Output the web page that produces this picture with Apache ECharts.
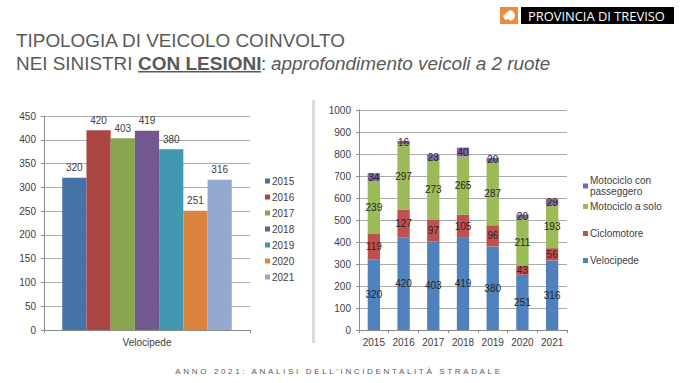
<!DOCTYPE html>
<html><head><meta charset="utf-8">
<style>html,body{margin:0;padding:0;background:#fff}#c{width:680px;height:383px}</style>
<script src="https://cdn.jsdelivr.net/npm/echarts@6/dist/echarts.min.js"></script>
</head><body><div id="c"></div>
<script>
const years = ['2015','2016','2017','2018','2019','2020','2021'];
const velocipede = [320,420,403,419,380,251,316];
const ciclomotore = [119,127,97,105,96,43,56];
const motoSolo = [239,297,273,265,287,211,193];
const motoPass = [34,16,23,40,20,20,29];
const yearColors = ['#4572A7','#AA4643','#89A54E','#71588F','#4198AF','#DB843D','#93A9CF'];
const typeNames = ['Velocipede','Ciclomotore','Motociclo a solo','Motociclo con\npasseggero'];
const typeColors = ['#4F81BD','#C0504D','#9BBB59','#8064A2'];
const typeValues = [velocipede,ciclomotore,motoSolo,motoPass];
const FOOTER = "ANNO 2021: ANALISI DELL'INCIDENTALITÀ STRADALE";
const FF = '"Liberation Sans", Arial, sans-serif';
const txt = '#404040', grid = '#ababab';

const axisLab = {color:txt,fontFamily:FF,fontSize:10};
const mkX = (gi,data)=>({type:'category',gridIndex:gi,data,axisLine:{lineStyle:{color:'#8c8c8c'}},
  axisTick:{show:true,length:3,lineStyle:{color:'#8c8c8c'}},axisLabel:{...axisLab,margin:7}});
const mkY = (gi,max,interval)=>({type:'value',gridIndex:gi,min:0,max,interval,
  axisLine:{show:true,lineStyle:{color:'#8c8c8c'}},axisTick:{show:true,length:3,lineStyle:{color:'#8c8c8c'}},
  axisLabel:{...axisLab,margin:8,formatter:v=>String(v)},splitLine:{lineStyle:{color:grid,width:1}}});

const series = [];
years.forEach((y,i)=>series.push({name:y,type:'bar',xAxisIndex:0,yAxisIndex:0,barGap:0,barCategoryGap:'17.7%',
  data:[velocipede[i]],itemStyle:{color:yearColors[i]},
  label:{show:true,position:'top',distance:5,color:txt,fontFamily:FF,fontSize:10}}));
typeNames.forEach((n,i)=>series.push({name:n,type:'bar',xAxisIndex:1,yAxisIndex:1,stack:'t',barWidth:12.3,
  data:typeValues[i],itemStyle:{color:typeColors[i]},
  label:{show:true,position:'inside',color:'#262626',fontFamily:FF,fontSize:10}}));

const t = (text,x,y,extra={})=>({type:'text',x,y,silent:true,style:{text,fill:'#595959',fontFamily:FF,fontSize:18.9,align:'left',verticalAlign:'middle',...extra}});
const chart = echarts.init(document.getElementById('c'),null,{renderer:'svg'});
chart.on('finished',()=>{
  document.querySelectorAll('#c text').forEach(e=>{
    if(e.textContent===FOOTER) e.setAttribute('letter-spacing','2.65');
  });
});
const typeLegendText = {color:txt,fontFamily:FF,fontSize:10,lineHeight:11,padding:[0,0,0,-3]};
chart.setOption({
  animation:false,backgroundColor:'#fff',
  grid:[{left:44,top:116,width:206,height:214},{left:359,top:110,width:208,height:220}],
  xAxis:[mkX(0,['Velocipede']),mkX(1,years)],
  yAxis:[mkY(0,450,50),mkY(1,1000,100)],
  legend:[
    {left:265,top:175,orient:'vertical',data:[...years],itemWidth:5,itemHeight:5,itemGap:4,icon:'rect',selectedMode:false,
      textStyle:{color:txt,fontFamily:FF,fontSize:10,lineHeight:12,padding:[0,0,0,-3]},padding:0},
    {left:583,top:175,orient:'vertical',data:[typeNames[3]],itemWidth:5,itemHeight:5,icon:'rect',selectedMode:false,
      textStyle:typeLegendText,padding:0},
    {left:583,top:201,orient:'vertical',data:[typeNames[2],typeNames[1],typeNames[0]],itemWidth:5,itemHeight:5,itemGap:16,icon:'rect',selectedMode:false,
      textStyle:typeLegendText,padding:0}
  ],
  series,
  graphic:[
    {type:'rect',silent:true,shape:{x:312,y:100,width:3,height:243},style:{fill:'#dcdcdc'}},
    {type:'rect',silent:true,shape:{x:500,y:7,width:18,height:17},style:{fill:'#EE8A3C'}},
    {type:'polygon',silent:true,shape:{points:[[503,16],[506,13],[510,10],[513,11],[515,15],[514,19],[511,21],[508,19],[505,20]]},style:{fill:'#fff'}},
    {type:'rect',silent:true,shape:{x:521,y:7,width:153,height:17},style:{fill:'#000'}},
    t('PROVINCIA DI TREVISO',528,15.5,{fill:'#fff',fontFamily:'"Open Sans", sans-serif',fontSize:12.9}),
    t('TIPOLOGIA DI VEICOLO COINVOLTO',16,40),
    t('NEI SINISTRI',16,63),
    t('CON LESIONI',138,63,{fontWeight:'bold',fontSize:19}),
    {type:'rect',silent:true,shape:{x:138,y:71,width:123,height:1.5},style:{fill:'#595959'}},
    t(':',261,63),
    t('approfondimento veicoli a 2 ruote',271,63,{fontStyle:'italic'}),
    {type:'text',x:339,y:371,silent:true,style:{text:FOOTER,fill:'#595959',fontFamily:FF,fontSize:8,align:'center',verticalAlign:'middle'}}
  ]
});
</script></body></html>
